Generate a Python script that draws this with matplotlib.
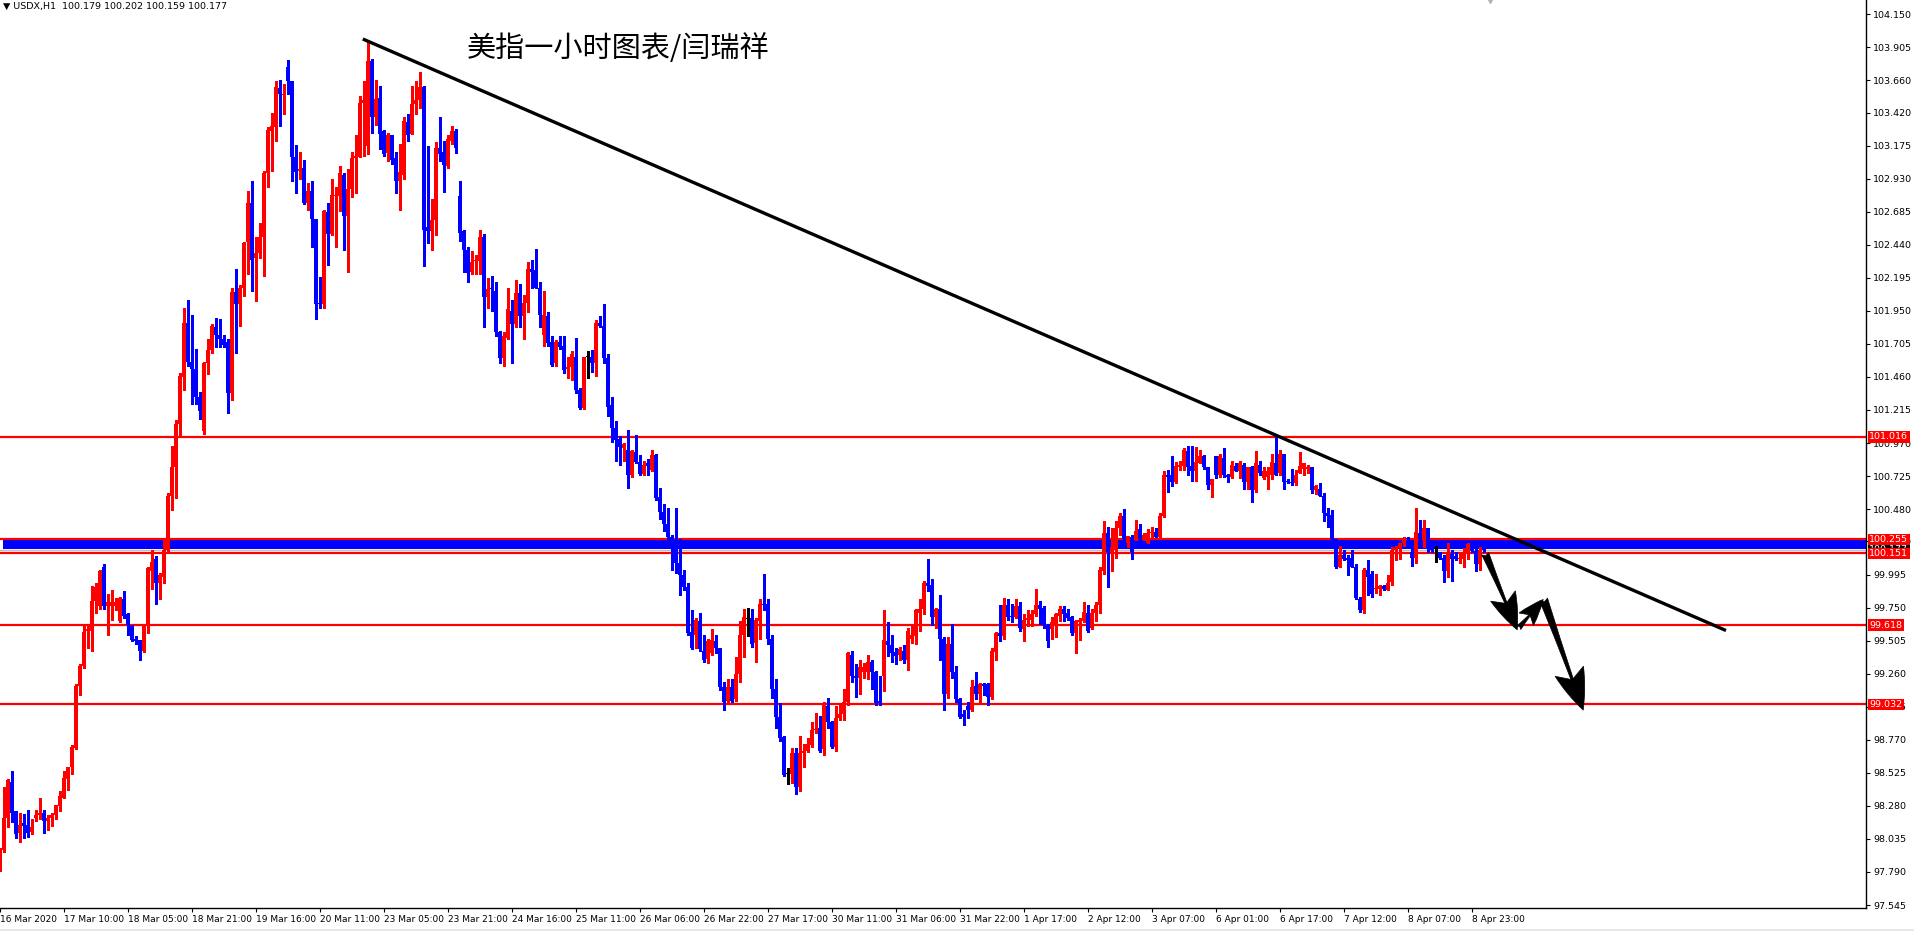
"""USDX H1 candle chart with support levels, trend line and arrows."""

import matplotlib.pyplot as plt
import matplotlib.transforms as mtransforms
import numpy as np

# hourly candles, 16 Mar 2020 -> 9 Apr 2020
opens = [
    97.82, 97.95, 98.19, 98.46, 98.24, 98.08, 98.15, 98.14, 98.09, 98.19,
    98.21, 98.23, 98.17, 98.19, 98.21, 98.28, 98.34, 98.48, 98.57, 98.71,
    99.17, 99.32, 99.58, 99.58, 99.80, 99.76, 100.05, 99.76, 99.76, 99.76,
    99.65, 99.81, 99.70, 99.61, 99.52, 99.51, 99.43, 99.61, 100.02, 100.11,
    99.93, 99.98, 100.18, 100.58, 100.79, 101.11, 101.46, 101.86, 101.57, 101.52,
    101.31, 101.06, 101.56, 101.66, 101.83, 101.77, 101.74, 101.72, 101.34, 102.09,
    102.00, 102.12, 102.46, 102.75, 102.34, 102.38, 102.50, 102.97, 103.28, 103.31,
    103.60, 103.55, 103.76, 103.65, 103.09, 102.99, 103.01, 102.75, 102.84, 102.63,
    102.01, 102.00, 102.68, 102.52, 102.80, 102.80, 102.96, 102.65, 102.85, 103.08,
    103.09, 103.49, 103.17, 103.80, 103.39, 103.53, 103.28, 103.12, 103.25, 103.08,
    102.91, 102.96, 103.35, 103.26, 103.48, 103.51, 103.61, 102.57, 102.54, 102.62,
    103.16, 103.13, 103.02, 103.21, 103.28, 102.80, 102.54, 102.40, 102.24, 102.32,
    102.32, 102.50, 102.05, 102.12, 102.10, 101.79, 101.60, 101.75, 101.95, 101.85,
    102.08, 101.91, 102.01, 102.26, 102.25, 102.12, 101.77, 101.91, 101.72, 101.56,
    101.72, 101.69, 101.52, 101.53, 101.61, 101.36, 101.23, 101.61, 101.61, 101.56,
    101.86, 101.84, 101.60, 101.25, 101.08, 101.00, 100.93, 100.92, 100.73, 100.90,
    100.83, 100.74, 100.82, 100.77, 100.88, 100.57, 100.46, 100.37, 100.27, 100.24,
    100.08, 99.99, 99.90, 99.57, 99.55, 99.65, 99.43, 99.37, 99.41, 99.50,
    99.45, 99.16, 99.06, 99.16, 99.07, 99.26, 99.55, 99.67, 99.67, 99.49,
    99.65, 99.78, 99.78, 99.52, 99.15, 98.94, 98.79, 98.52, 98.52, 98.67,
    98.42, 98.67, 98.69, 98.73, 98.84, 98.86, 98.70, 99.02, 98.90, 98.72,
    98.93, 98.96, 99.05, 99.40, 99.24, 99.23, 99.27, 99.27, 99.35, 99.27,
    99.06, 99.24, 99.50, 99.47, 99.42, 99.40, 99.43, 99.36, 99.52, 99.54,
    99.71, 99.74, 99.93, 99.92, 99.68, 99.74, 99.52, 99.11, 99.48, 99.27,
    99.07, 98.96, 99.02, 98.99, 99.17, 99.11, 99.18, 99.18, 99.09, 99.42,
    99.56, 99.54, 99.77, 99.69, 99.68, 99.76, 99.59, 99.66, 99.66, 99.70,
    99.77, 99.75, 99.62, 99.59, 99.63, 99.69, 99.74, 99.71, 99.68, 99.56,
    99.64, 99.65, 99.71, 99.60, 99.71, 99.77, 100.02, 100.30, 100.16, 100.18,
    100.34, 100.43, 100.23, 100.27, 100.26, 100.33, 100.26, 100.23, 100.30, 100.31,
    100.27, 100.43, 100.73, 100.73, 100.68, 100.79, 100.80, 100.91, 100.80, 100.76,
    100.82, 100.87, 100.79, 100.66, 100.87, 100.73, 100.86, 100.73, 100.72, 100.80,
    100.76, 100.81, 100.68, 100.79, 100.62, 100.81, 100.71, 100.72, 100.73, 100.82,
    100.75, 100.89, 100.69, 100.68, 100.67, 100.75, 100.78, 100.78, 100.79, 100.62,
    100.63, 100.58, 100.45, 100.44, 100.26, 100.05, 100.14, 100.12, 100.12, 100.05,
    99.81, 99.73, 100.03, 100.00, 99.885, 99.89, 99.91, 99.88, 99.94, 100.18,
    100.19, 100.23, 100.26, 100.16, 100.12, 100.30, 100.26, 100.34, 100.21, 100.19,
    100.16, 100.12, 100.02, 100.15, 100.13, 100.11, 100.11, 100.15, 100.19, 100.17,
    100.07, 100.179,
]
highs = [
    97.97, 98.42, 98.48, 98.54, 98.24, 98.23, 98.22, 98.25, 98.18, 98.25,
    98.34, 98.25, 98.21, 98.23, 98.29, 98.39, 98.54, 98.57, 98.73, 99.18,
    99.33, 99.61, 99.61, 99.91, 99.93, 100.03, 100.07, 99.85, 99.88, 99.82,
    99.83, 99.87, 99.71, 99.62, 99.54, 99.51, 99.63, 100.05, 100.18, 100.13,
    100.01, 100.25, 100.60, 100.95, 101.14, 101.49, 101.97, 102.03, 101.92, 101.67,
    101.35, 101.57, 101.74, 101.85, 101.90, 101.89, 101.77, 101.74, 102.12, 102.26,
    102.14, 102.46, 102.84, 102.91, 102.50, 102.60, 102.99, 103.31, 103.42, 103.65,
    103.66, 103.63, 103.81, 103.65, 103.18, 103.13, 103.07, 102.90, 102.91, 102.63,
    102.20, 102.70, 102.75, 102.93, 102.87, 103.02, 102.97, 103.00, 103.13, 103.25,
    103.54, 103.65, 103.95, 103.82, 103.66, 103.62, 103.29, 103.27, 103.25, 103.13,
    103.19, 103.39, 103.41, 103.62, 103.65, 103.72, 103.62, 103.17, 102.78, 103.20,
    103.39, 103.21, 103.25, 103.32, 103.30, 102.91, 102.55, 102.42, 102.39, 102.36,
    102.55, 102.52, 102.19, 102.21, 102.16, 101.80, 101.79, 102.12, 102.03, 102.18,
    102.15, 102.07, 102.31, 102.33, 102.41, 102.16, 102.10, 101.94, 101.76, 101.73,
    101.76, 101.76, 101.61, 101.65, 101.75, 101.38, 101.61, 101.65, 101.66, 101.88,
    101.91, 102.00, 101.63, 101.31, 101.13, 101.02, 100.97, 101.07, 100.92, 101.03,
    100.88, 100.84, 100.85, 100.92, 100.89, 100.64, 100.52, 100.49, 100.29, 100.49,
    100.26, 100.03, 99.93, 99.73, 99.67, 99.71, 99.55, 99.52, 99.59, 99.55,
    99.45, 99.20, 99.22, 99.22, 99.38, 99.65, 99.74, 99.75, 99.74, 99.67,
    99.81, 100.00, 99.81, 99.55, 99.22, 99.04, 98.80, 98.56, 98.71, 98.71,
    98.80, 98.74, 98.78, 98.90, 98.97, 98.95, 99.05, 99.08, 98.91, 99.02,
    99.04, 99.15, 99.42, 99.43, 99.33, 99.36, 99.34, 99.40, 99.36, 99.28,
    99.24, 99.73, 99.64, 99.55, 99.45, 99.46, 99.47, 99.60, 99.61, 99.74,
    99.81, 99.95, 100.11, 99.96, 99.75, 99.84, 99.53, 99.53, 99.63, 99.32,
    99.08, 98.99, 99.05, 99.21, 99.27, 99.19, 99.19, 99.19, 99.45, 99.57,
    99.77, 99.82, 99.81, 99.78, 99.81, 99.79, 99.70, 99.73, 99.73, 99.89,
    99.80, 99.76, 99.63, 99.68, 99.71, 99.76, 99.76, 99.74, 99.69, 99.66,
    99.67, 99.79, 99.77, 99.74, 99.79, 100.05, 100.39, 100.35, 100.34, 100.39,
    100.45, 100.48, 100.28, 100.29, 100.40, 100.37, 100.30, 100.33, 100.35, 100.34,
    100.45, 100.76, 100.77, 100.87, 100.83, 100.84, 100.93, 100.95, 100.95, 100.94,
    100.92, 100.88, 100.79, 100.70, 100.87, 100.89, 100.93, 100.74, 100.84, 100.82,
    100.84, 100.82, 100.79, 100.80, 100.91, 100.84, 100.79, 100.79, 100.89, 101.02,
    100.92, 100.89, 100.70, 100.78, 100.77, 100.90, 100.82, 100.81, 100.79, 100.66,
    100.67, 100.60, 100.49, 100.47, 100.26, 100.21, 100.18, 100.14, 100.18, 100.07,
    99.83, 100.04, 100.10, 100.02, 100.00, 99.92, 99.92, 99.99, 100.20, 100.21,
    100.23, 100.27, 100.27, 100.20, 100.49, 100.40, 100.40, 100.34, 100.23, 100.21,
    100.16, 100.14, 100.23, 100.18, 100.16, 100.16, 100.19, 100.23, 100.21, 100.19,
    100.20, 100.202,
]
lows = [
    97.80, 97.94, 98.12, 98.16, 98.04, 98.01, 98.04, 98.05, 98.07, 98.17,
    98.18, 98.08, 98.10, 98.13, 98.18, 98.24, 98.34, 98.40, 98.52, 98.70,
    99.10, 99.30, 99.45, 99.43, 99.71, 99.74, 99.74, 99.55, 99.66, 99.73,
    99.64, 99.67, 99.55, 99.50, 99.48, 99.36, 99.42, 99.56, 99.89, 99.78,
    99.81, 99.93, 100.17, 100.47, 100.56, 101.03, 101.36, 101.54, 101.26, 101.26,
    101.15, 101.04, 101.48, 101.64, 101.68, 101.68, 101.68, 101.19, 101.29, 101.64,
    101.84, 102.06, 102.22, 102.10, 102.02, 102.34, 102.21, 102.87, 102.99, 103.21,
    103.32, 103.41, 103.56, 102.91, 102.82, 102.93, 102.74, 102.70, 102.42, 101.89,
    101.97, 101.97, 102.29, 102.51, 102.42, 102.69, 102.40, 102.24, 102.79, 102.82,
    103.09, 103.10, 103.11, 103.27, 103.33, 103.15, 103.10, 103.06, 103.04, 102.82,
    102.70, 102.93, 103.21, 103.26, 103.41, 103.45, 102.28, 102.45, 102.40, 102.51,
    103.06, 102.83, 103.01, 103.19, 103.12, 102.47, 102.24, 102.16, 102.22, 102.22,
    102.22, 101.83, 101.97, 101.95, 101.76, 101.56, 101.54, 101.74, 101.56, 101.83,
    101.83, 101.74, 101.94, 102.12, 102.12, 101.83, 101.69, 101.69, 101.54, 101.54,
    101.67, 101.49, 101.45, 101.44, 101.34, 101.22, 101.22, 101.45, 101.50, 101.47,
    101.83, 101.56, 101.17, 100.98, 100.84, 100.81, 100.84, 100.64, 100.72, 100.82,
    100.73, 100.73, 100.73, 100.76, 100.55, 100.41, 100.32, 100.26, 100.03, 100.01,
    99.84, 99.88, 99.55, 99.44, 99.45, 99.43, 99.35, 99.34, 99.40, 99.41,
    99.14, 98.99, 99.05, 99.05, 99.06, 99.20, 99.38, 99.54, 99.46, 99.35,
    99.52, 99.73, 99.48, 99.08, 98.86, 98.76, 98.50, 98.44, 98.45, 98.37,
    98.39, 98.57, 98.68, 98.72, 98.82, 98.68, 98.66, 98.86, 98.71, 98.69,
    98.92, 98.92, 99.03, 99.20, 99.09, 99.11, 99.23, 99.22, 99.15, 99.03,
    99.03, 99.13, 99.39, 99.35, 99.33, 99.36, 99.34, 99.29, 99.49, 99.48,
    99.58, 99.70, 99.87, 99.62, 99.60, 99.36, 98.99, 99.08, 99.23, 99.05,
    98.93, 98.88, 98.93, 98.98, 99.07, 99.05, 99.10, 99.03, 99.07, 99.36,
    99.50, 99.52, 99.66, 99.64, 99.67, 99.58, 99.50, 99.61, 99.61, 99.69,
    99.63, 99.60, 99.46, 99.52, 99.53, 99.65, 99.65, 99.66, 99.55, 99.41,
    99.51, 99.64, 99.57, 99.59, 99.65, 99.71, 100.00, 99.90, 100.02, 100.12,
    100.29, 100.25, 100.20, 100.11, 100.25, 100.25, 100.25, 100.23, 100.26, 100.27,
    100.27, 100.42, 100.61, 100.65, 100.67, 100.77, 100.77, 100.73, 100.69, 100.69,
    100.82, 100.78, 100.63, 100.57, 100.71, 100.72, 100.72, 100.68, 100.71, 100.76,
    100.71, 100.63, 100.63, 100.53, 100.61, 100.73, 100.70, 100.63, 100.70, 100.73,
    100.73, 100.63, 100.67, 100.66, 100.66, 100.75, 100.73, 100.75, 100.60, 100.59,
    100.58, 100.39, 100.35, 100.26, 100.04, 100.05, 100.10, 99.99, 100.05, 99.81,
    99.72, 99.71, 99.84, 99.83, 99.86, 99.84, 99.88, 99.88, 99.92, 100.10,
    100.11, 100.21, 100.21, 100.06, 100.08, 100.21, 100.20, 100.16, 100.16, 100.09,
    100.11, 99.94, 99.98, 99.95, 100.10, 100.08, 100.05, 100.11, 100.16, 100.02,
    100.03, 100.159,
]
closes = [
    97.96, 98.19, 98.47, 98.23, 98.07, 98.14, 98.13, 98.08, 98.12, 98.21,
    98.23, 98.17, 98.19, 98.21, 98.29, 98.35, 98.49, 98.57, 98.72, 99.17,
    99.32, 99.57, 99.59, 99.80, 99.90, 100.02, 99.76, 99.79, 99.79, 99.79,
    99.82, 99.69, 99.62, 99.51, 99.50, 99.43, 99.62, 100.04, 100.09, 99.93,
    99.99, 100.18, 100.58, 100.79, 101.11, 101.47, 101.86, 101.57, 101.52, 101.31,
    101.21, 101.56, 101.66, 101.84, 101.77, 101.74, 101.70, 101.34, 102.09, 102.00,
    102.12, 102.45, 102.75, 102.33, 102.38, 102.50, 102.97, 103.29, 103.32, 103.61,
    103.56, 103.56, 103.65, 103.09, 102.98, 103.00, 102.75, 102.84, 102.63, 102.00,
    102.00, 102.69, 102.52, 102.81, 102.81, 102.97, 102.65, 102.85, 103.08, 103.10,
    103.49, 103.51, 103.80, 103.39, 103.52, 103.26, 103.11, 103.25, 103.07, 102.91,
    102.98, 103.36, 103.25, 103.48, 103.51, 103.61, 102.55, 102.54, 102.62, 103.16,
    103.11, 103.03, 103.22, 103.28, 103.16, 102.53, 102.40, 102.23, 102.31, 102.33,
    102.50, 102.05, 102.11, 102.11, 101.79, 101.60, 101.76, 101.96, 101.85, 102.08,
    101.91, 102.01, 102.26, 102.24, 102.12, 101.92, 101.92, 101.71, 101.55, 101.72,
    101.68, 101.51, 101.53, 101.63, 101.36, 101.23, 101.61, 101.61, 101.56, 101.86,
    101.84, 101.60, 101.24, 101.08, 100.99, 100.94, 100.96, 100.73, 100.91, 100.83,
    100.74, 100.81, 100.80, 100.88, 100.56, 100.46, 100.37, 100.27, 100.21, 100.08,
    99.99, 99.90, 99.56, 99.45, 99.66, 99.44, 99.36, 99.50, 99.51, 99.45,
    99.16, 99.05, 99.16, 99.06, 99.26, 99.55, 99.68, 99.67, 99.48, 99.66,
    99.78, 99.77, 99.52, 99.15, 98.94, 98.78, 98.51, 98.52, 98.67, 98.42,
    98.67, 98.69, 98.74, 98.84, 98.85, 98.69, 99.04, 98.90, 98.72, 98.93,
    98.96, 99.05, 99.41, 99.24, 99.23, 99.31, 99.31, 99.35, 99.27, 99.04,
    99.04, 99.51, 99.47, 99.41, 99.39, 99.44, 99.36, 99.58, 99.55, 99.73,
    99.74, 99.93, 99.91, 99.68, 99.74, 99.52, 99.11, 99.48, 99.27, 99.07,
    98.94, 98.94, 98.99, 99.16, 99.11, 99.18, 99.17, 99.09, 99.43, 99.56,
    99.54, 99.77, 99.68, 99.68, 99.76, 99.60, 99.66, 99.67, 99.70, 99.77,
    99.74, 99.62, 99.50, 99.64, 99.70, 99.74, 99.70, 99.67, 99.56, 99.65,
    99.66, 99.72, 99.58, 99.71, 99.77, 100.03, 100.30, 100.16, 100.20, 100.34,
    100.43, 100.26, 100.28, 100.16, 100.32, 100.26, 100.29, 100.30, 100.31, 100.27,
    100.43, 100.73, 100.72, 100.68, 100.80, 100.81, 100.92, 100.79, 100.76, 100.83,
    100.87, 100.79, 100.66, 100.70, 100.73, 100.87, 100.73, 100.72, 100.81, 100.76,
    100.82, 100.68, 100.79, 100.62, 100.82, 100.75, 100.76, 100.76, 100.83, 100.73,
    100.89, 100.68, 100.68, 100.67, 100.73, 100.80, 100.82, 100.79, 100.62, 100.65,
    100.58, 100.45, 100.43, 100.26, 100.05, 100.14, 100.11, 100.10, 100.05, 99.82,
    99.73, 100.03, 99.98, 99.85, 99.892, 99.91, 99.89, 99.93, 100.18, 100.19,
    100.23, 100.26, 100.255, 100.12, 100.31, 100.26, 100.34, 100.25, 100.18, 100.19,
    100.12, 100.02, 100.15, 100.11, 100.11, 100.12, 100.15, 100.22, 100.17, 100.07,
    100.18, 100.177,
]

date_labels = [
    "16 Mar 2020", "17 Mar 10:00", "18 Mar 05:00", "18 Mar 21:00", "19 Mar 16:00",
    "20 Mar 11:00", "23 Mar 05:00", "23 Mar 21:00", "24 Mar 16:00", "25 Mar 11:00",
    "26 Mar 06:00", "26 Mar 22:00", "27 Mar 17:00", "30 Mar 11:00", "31 Mar 06:00",
    "31 Mar 22:00", "1 Apr 17:00", "2 Apr 12:00", "3 Apr 07:00", "6 Apr 01:00",
    "6 Apr 17:00", "7 Apr 12:00", "8 Apr 07:00", "8 Apr 23:00",
]
price_labels = [
    "97.545", "97.790", "98.035", "98.280", "98.525", "98.770", "99.015",
    "99.260", "99.505", "99.750", "99.995", "100.240", "100.480", "100.725",
    "100.970", "101.215", "101.460", "101.705", "101.950", "102.195", "102.440",
    "102.685", "102.930", "103.175", "103.420", "103.660", "103.905", "104.150",
]
levels = [101.016, 100.255, 100.151, 99.618, 99.032]
band = (100.183, 100.255)
trend_x = [90.7, 431.5]
trend_y = [103.965, 99.58]
# (start, end, size) for the hand drawn arrows
arrows = [
    ((371.3, 100.15), (379.3, 99.585), 24),
    ((379.7, 99.60), (385.8, 99.81), 17),
    ((385.9, 99.81), (395.8, 98.99), 27),
]

plt.rcParams["font.family"] = ["DejaVu Sans"]

RED = "#ff0000"
BLUE = "#0000ff"

fig = plt.figure(figsize=(19.14, 9.31), dpi=100)
ax = fig.add_axes([0, 23 / 931, 1866 / 1914, 908 / 931])

o = np.array(opens)
c = np.array(closes)
h = np.maximum(np.array(highs), np.maximum(o, c))
l = np.minimum(np.array(lows), np.minimum(o, c))
x = np.arange(len(c))

flat = np.abs(c - o) < 0.001
colors = np.where(flat, "black", np.where(c > o, RED, BLUE))

# levels and band behind candles
ax.axhline(c[-1], color="#c0c0c0", lw=1.0, zorder=0.5)
ax.axhspan(band[0], band[1], xmin=0.0015, color=BLUE, lw=0, zorder=1)
for lv in levels:
    ax.axhline(lv, color=RED, lw=1.6, zorder=2)

ax.vlines(x, l, h, colors=colors, lw=1.0, zorder=3, antialiased=False)
body = np.maximum(np.abs(c - o), 0.008)
ax.bar(x, body, bottom=np.minimum(o, c) - np.where(flat, 0.004, 0), width=0.78,
       color=colors, lw=0, zorder=3, antialiased=False)

ax.plot(trend_x, trend_y, color="black", lw=2.4, zorder=4, solid_capstyle="butt")

for start, end, size in arrows:
    ax.annotate("", xy=end, xytext=start, zorder=5,
                arrowprops=dict(arrowstyle="fancy,head_length=1.1,head_width=0.8,tail_width=0.22",
                                fc="black", ec="black", lw=0.5, mutation_scale=size,
                                shrinkA=0, shrinkB=0))

ax.set_xlim(0, 466.5)
ax.set_ylim(97.523, 104.254)

for side in ("top", "left"):
    ax.spines[side].set_visible(False)
for side in ("right", "bottom"):
    ax.spines[side].set_color("black")
    ax.spines[side].set_linewidth(1.0)

ax.yaxis.tick_right()
ax.set_yticks([float(p) for p in price_labels])
ax.set_yticklabels(price_labels)
ax.tick_params(axis="y", direction="out", length=3, width=0.8, pad=2, labelsize=6.8)

ax.set_xticks(np.arange(len(date_labels)) * 16)
ax.set_xticklabels(date_labels)
plt.setp(ax.get_xticklabels(), ha="left")
ax.tick_params(axis="x", direction="out", length=3, width=0.8, pad=2, labelsize=6.5)

# price tags on the right scale
tag_tr = mtransforms.blended_transform_factory(ax.transAxes, ax.transData)
ax.text(1.0018, c[-1], f"{c[-1]:.3f}", transform=tag_tr, color="white", fontsize=6.8,
        va="center", ha="left", zorder=6,
        bbox=dict(boxstyle="square,pad=0.15", fc="black", ec="none"))
for lv in levels:
    ax.text(1.0018, lv, f"{lv:.3f}", transform=tag_tr, color="white", fontsize=6.8,
            va="center", ha="left", zorder=7,
            bbox=dict(boxstyle="square,pad=0.15", fc=RED, ec="none"))

# chart shift marker at top
ax.plot(len(c) + 0.5, 104.254, marker="v", color="#b0b0b0", ms=5, clip_on=False, zorder=6)

fig.text(3 / 1914, 1 - 6 / 931,
         f"\u25bc USDX,H1  {o[-1]:.3f} {h[-1]:.3f} {l[-1]:.3f} {c[-1]:.3f}",
         fontsize=6.8, va="center", ha="left")
fig.text(467 / 1914, 1 - 49 / 931, "美指一小时图表/闫瑞祥", fontsize=21,
         family=["Noto Sans CJK SC", "DejaVu Sans"], va="center", ha="left")

fig.add_artist(plt.Line2D([0, 1], [1.5 / 931, 1.5 / 931], color="#e6e6e6", lw=2,
                          transform=fig.transFigure))

fig.savefig("out.png", dpi=100, facecolor="white")
plt.close(fig)
